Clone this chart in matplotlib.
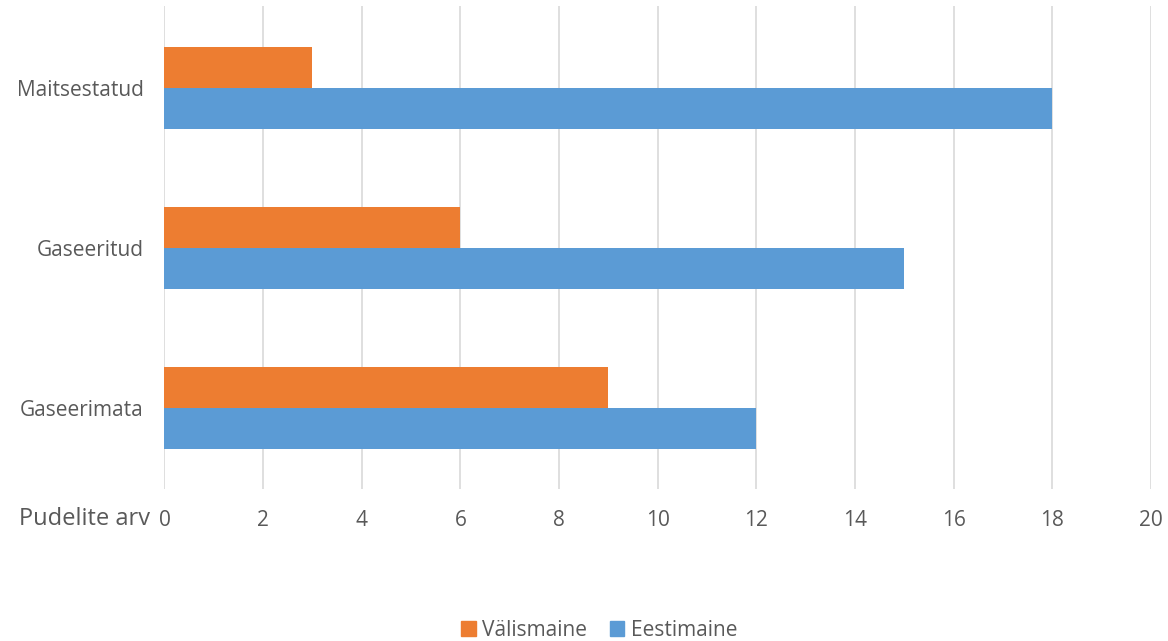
import numpy as np
import matplotlib
matplotlib.use("Agg")
import matplotlib.pyplot as plt
from matplotlib.patches import Patch

plt.rcParams['font.family'] = ['Open Sans', 'DejaVu Sans']

categories = ["Gaseerimata", "Gaseeritud", "Maitsestatud"]
valismaine = [9, 6, 3]
eestimaine = [12, 15, 18]
xticks = [0, 2, 4, 6, 8, 10, 12, 14, 16, 18, 20]

orange = "#ED7D31"
blue = "#5B9BD5"
grey_text = "#595959"

fig = plt.figure(figsize=(11.68, 6.41), dpi=100)
ax = fig.add_axes([0.1408, 0.2371, 0.8446, 0.7535])

y = np.arange(len(categories))
h = 0.258
ax.barh(y + h / 2, valismaine, height=h, color=orange, zorder=3)
ax.barh(y - h / 2, eestimaine, height=h, color=blue, zorder=3)

ax.set_xlim(0, 20)
ax.set_ylim(-0.506, 2.5125)
ax.set_xticks(xticks)
ax.set_yticks(y)
ax.set_yticklabels(categories)
ax.grid(axis='x', color="#D9D9D9", linewidth=1.2, zorder=0)
for s in ax.spines.values():
    s.set_visible(False)
ax.tick_params(axis='both', length=0, labelsize=15, colors=grey_text)
ax.tick_params(axis='x', pad=15)
ax.tick_params(axis='y', pad=15)

# axis title sits on the tick-label row, left of the 0
fig.text(150 / 1168, 1 - 519 / 641, "Pudelite arv", ha='right', va='center',
         fontsize=17, color=grey_text)

handles = [Patch(color=orange, label="Välismaine"), Patch(color=blue, label="Eestimaine")]
fig.legend(handles=handles, loc='center', bbox_to_anchor=(0.513, 1 - 630 / 641),
           ncol=2, frameon=False, fontsize=15, labelcolor=grey_text,
           handlelength=0.7, handleheight=0.7, handletextpad=0.3, columnspacing=1.1)

fig.savefig("out.png", dpi=100)
